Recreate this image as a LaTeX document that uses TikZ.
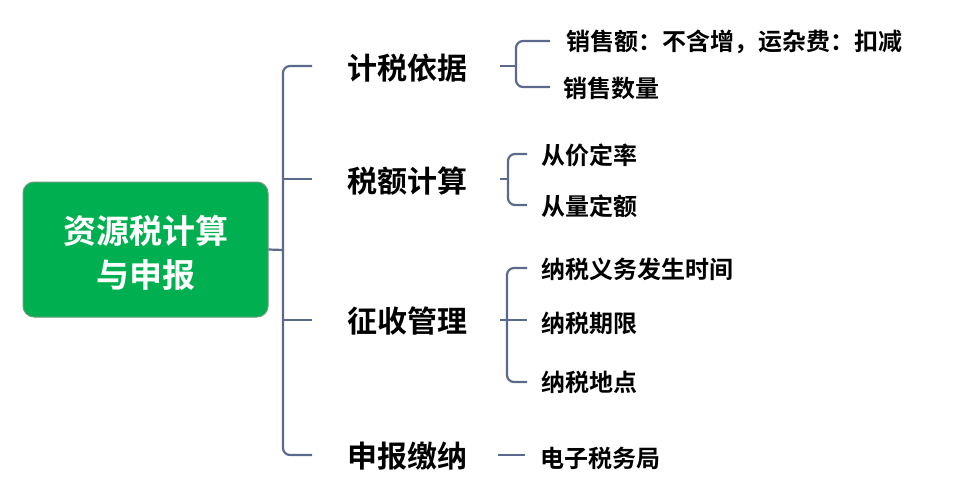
\documentclass[tikz,border=0pt]{standalone}
\usepackage{fontspec}
\newfontfamily\cjk{Noto Sans CJK SC}[BoldFont={Noto Sans CJK SC Bold}]
\definecolor{linec}{HTML}{5B6A8C}
\definecolor{rootgreen}{HTML}{00B050}
\definecolor{rootedge}{HTML}{6A9A80}
\begin{document}
\begin{tikzpicture}[x=1pt,y=-1pt,
  conn/.style={draw=linec, line width=2.2pt, rounded corners=7pt},
  lvlone/.style={anchor=west, inner sep=0pt, font=\cjk\bfseries\fontsize{30}{36}\selectfont, text height=26.4pt, text depth=3.6pt},
  lvltwo/.style={anchor=west, inner sep=0pt, font=\cjk\bfseries\fontsize{24}{30}\selectfont, text height=21.1pt, text depth=2.9pt},
  rootbox/.style={draw=rootedge, line width=1pt, fill=rootgreen, rounded corners=11pt, minimum width=245pt, minimum height=135pt, align=center, text=white, font=\cjk\bfseries\fontsize{33}{44}\selectfont}]
\useasboundingbox (0,0) rectangle (965,482);
\fill[white] (0,0) rectangle (965,482);
\node[rootbox] (root) at (145.5,249.5) {};
\node[text=white, font=\cjk\bfseries\fontsize{33}{44}\selectfont, align=center, inner sep=0pt] (roottext) at (146,253) {资源税计算\\与申报};
% level one
\node[lvlone] (l1a) at (347,68) {计税依据};
\node[lvlone] (l1b) at (347,181) {税额计算};
\node[lvlone] (l1c) at (347,321) {征收管理};
\node[lvlone] (l1d) at (347,456) {申报缴纳};
% level two
\node[lvltwo] (l2a) at (566,41) {销售额：不含增，运杂费：扣减};
\node[lvltwo] (l2b) at (563,88) {销售数量};
\node[lvltwo] (l2c) at (541,155) {从价定率};
\node[lvltwo] (l2d) at (541,206) {从量定额};
\node[lvltwo] (l2e) at (541,269) {纳税义务发生时间};
\node[lvltwo] (l2f) at (541,323) {纳税期限};
\node[lvltwo] (l2g) at (541,382) {纳税地点};
\node[lvltwo] (l2h) at (540,458) {电子税务局};
% main bracket
\coordinate (m0) at (283,250);
\coordinate (s1) at (312,66);
\coordinate (s2) at (312,179);
\coordinate (s3) at (312,320);
\coordinate (s4) at (312,455);
\draw[conn] (root.east) -- (m0);
\draw[conn] (s1) -- (283,66) -- (283,455) -- (s4);
\draw[conn] (283,179) -- (s2);
\draw[conn] (283,320) -- (s3);
% sub bracket 1
\coordinate (t1) at (500,66);
\draw[conn] (t1) -- (516,66);
\draw[conn] (550,41) -- (516,41) -- (516,87) -- (550,87);
% sub bracket 2
\coordinate (t2) at (500,179);
\draw[conn] (t2) -- (508,179);
\draw[conn] (527,154) -- (508,154) -- (508,205) -- (527,205);
% sub bracket 3
\coordinate (t3) at (500,320);
\draw[conn] (t3) -- (527,320);
\draw[conn] (527,268) -- (507,268) -- (507,382) -- (527,382);
% sub 4
\coordinate (t4) at (498,455);
\draw[conn] (t4) -- (525,455);
\end{tikzpicture}
\end{document}
